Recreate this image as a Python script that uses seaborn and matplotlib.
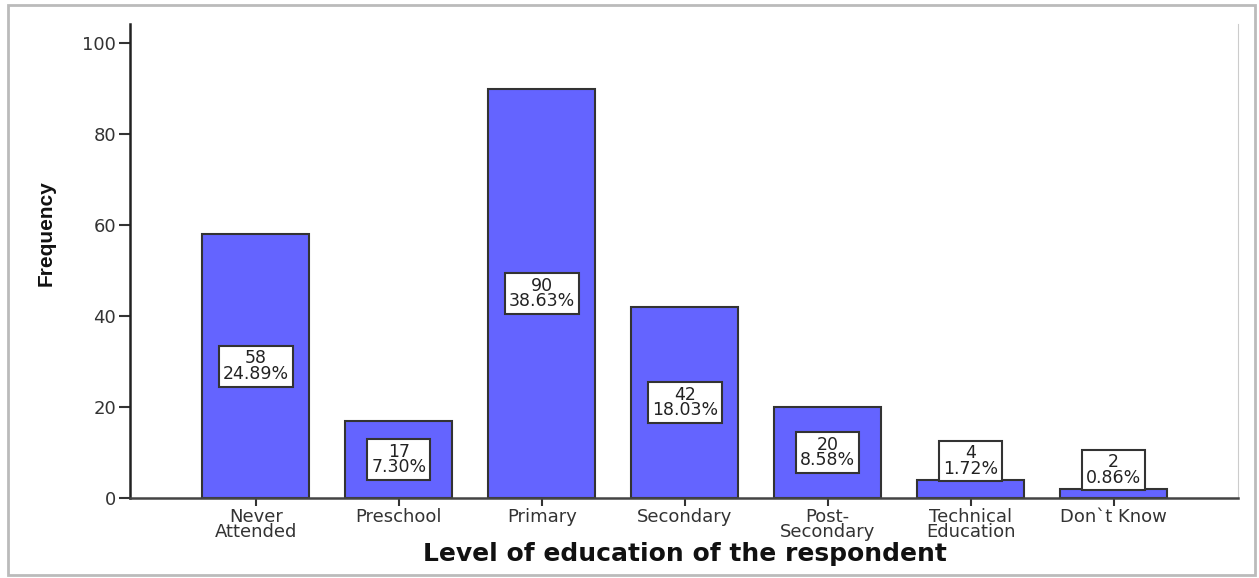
import pandas as pd
import seaborn as sns
import matplotlib.pyplot as plt
import matplotlib.patches as mpatches

categories = ["Never\nAttended", "Preschool", "Primary", "Secondary",
              "Post-\nSecondary", "Technical\nEducation", "Don`t Know"]
counts = [58, 17, 90, 42, 20, 4, 2]

total = sum(counts)
df = pd.DataFrame({"level": categories, "freq": counts})

sns.set_style("white")
plt.rcParams['font.family'] = ['DejaVu Sans']

fig = plt.figure(figsize=(12.59, 5.78), dpi=100)
ax = fig.add_axes([130 / 1259, 1 - 498 / 578, (1238 - 130) / 1259, (498 - 24) / 578])

sns.barplot(data=df, x="level", y="freq", color="#6464ff", saturation=1,
            width=0.75, edgecolor="#333333", linewidth=1.5, ax=ax)

ax.set_xlim(-0.88, 6.87)
ax.set_ylim(0, 104.2)
ax.set_yticks([0, 20, 40, 60, 80, 100])

# value / percent boxes
for i, c in enumerate(counts):
    txt = f"{c}\n{c / total * 100:.2f}%"
    if c >= 10:
        y, va = c / 2, "center"
    else:
        y, va = c + 0.5, "bottom"
    ax.text(i, y, txt, ha="center", va=va, fontsize=12.5, linespacing=0.8,
            color="#222222",
            bbox=dict(boxstyle="square,pad=0.22", facecolor="white",
                      edgecolor="#333333", linewidth=1.5))

ax.spines["top"].set_visible(False)
ax.spines["right"].set_color("#cccccc")
ax.spines["right"].set_linewidth(0.8)
ax.spines["left"].set_color("#222222")
ax.spines["left"].set_linewidth(1.8)
ax.spines["bottom"].set_color("#444444")
ax.spines["bottom"].set_linewidth(1.8)

ax.tick_params(axis="y", left=True, length=8, width=1.5, color="#333333",
               labelsize=13, labelcolor="#333333", pad=2)
ax.tick_params(axis="x", bottom=True, length=6, width=1.5, color="#333333",
               labelsize=13, labelcolor="#333333", pad=1)
for lab in ax.get_xticklabels():
    lab.set_linespacing(0.82)

ax.set_xlabel("")
ax.set_ylabel("")
fig.text(46 / 1259, 1 - 233 / 578, "Frequency", rotation=90, ha="center",
         va="center", fontsize=15, fontweight="bold", color="#111111",
         family=['Liberation Sans', 'DejaVu Sans'])
fig.text(685 / 1259, 1 - 554 / 578, "Level of education of the respondent",
         ha="center", va="center", fontsize=18, fontweight="bold",
         color="#111111")

# outer frame
fig.patches.append(mpatches.Rectangle((8 / 1259, 3 / 578), 1247 / 1259, 570 / 578,
                                      transform=fig.transFigure, fill=False,
                                      edgecolor="#bbbbbb", linewidth=2))

plt.savefig("out.png", dpi=100)
